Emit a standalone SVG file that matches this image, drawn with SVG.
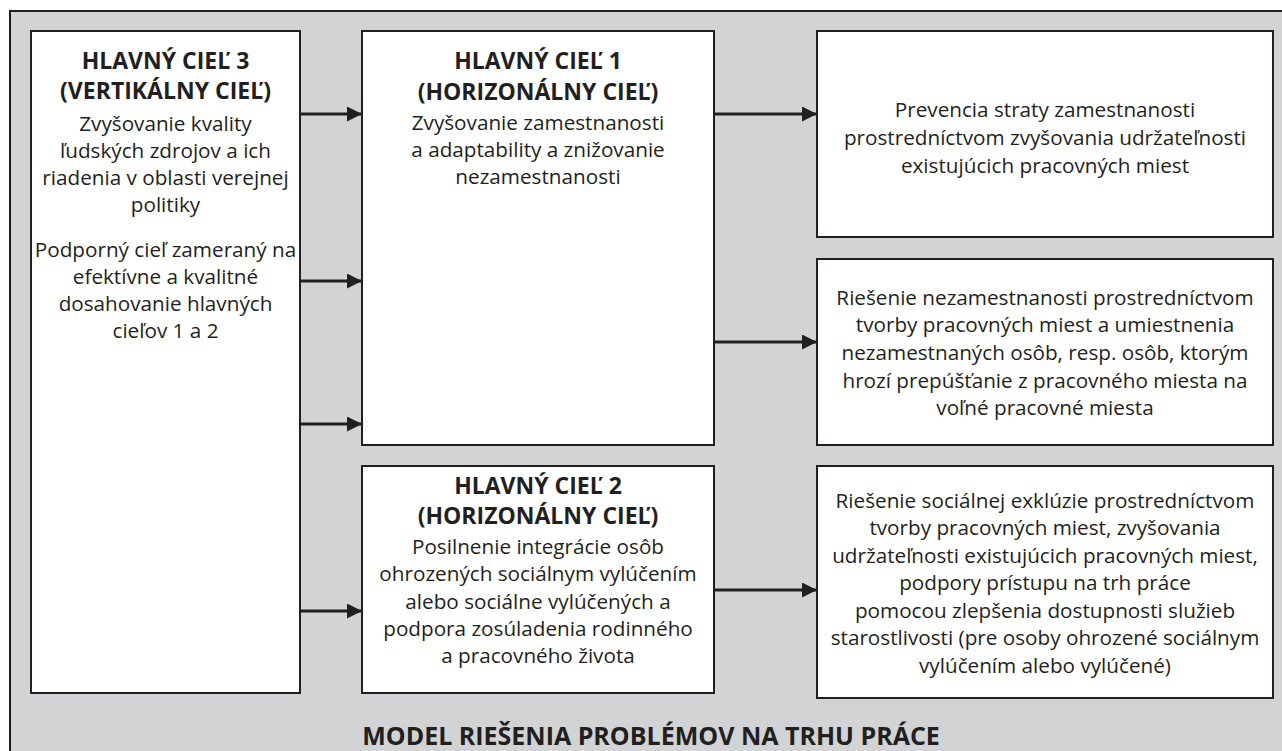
<svg xmlns="http://www.w3.org/2000/svg" width="1282" height="751" viewBox="0 0 1282 751">
<style>
  .frame { fill: #d1d3d4; stroke: #231f20; stroke-width: 2; }
  .box { fill: #ffffff; stroke: #231f20; stroke-width: 2; }
  .hd { font-family: "Open Sans", "Liberation Sans", sans-serif; font-weight: bold; font-size: 23px; fill: #231f20; text-anchor: middle; }
  .tx { font-family: "Open Sans", "Liberation Sans", sans-serif; font-size: 20.7px; fill: #231f20; text-anchor: middle; }
  .title { font-family: "Open Sans", "Liberation Sans", sans-serif; font-weight: bold; font-size: 25px; fill: #231f20; text-anchor: middle; }
  .conn { stroke: #231f20; stroke-width: 3; fill: none; marker-end: url(#arrow); }
</style>
<defs>
  <marker id="arrow" viewBox="0 0 15 15" refX="15" refY="7.5" markerWidth="15" markerHeight="15" markerUnits="userSpaceOnUse" orient="auto">
    <path d="M0,0 L15,7.5 L0,15 Z" fill="#231f20"/>
  </marker>
</defs>
<rect class="frame" x="10" y="11" width="1290" height="760"/>

<g id="goal3">
  <rect class="box" x="31" y="31" width="269" height="662"/>
  <text class="hd" x="165.5" y="69">HLAVNÝ CIEĽ 3</text>
  <text class="hd" x="165.5" y="99">(VERTIKÁLNY CIEĽ)</text>
  <text class="tx" x="165.5" y="131">Zvyšovanie kvality</text>
  <text class="tx" x="165.5" y="158">ľudských zdrojov a ich</text>
  <text class="tx" x="165.5" y="185">riadenia v oblasti verejnej</text>
  <text class="tx" x="165.5" y="212">politiky</text>
  <text class="tx" x="165.5" y="257">Podporný cieľ zameraný na</text>
  <text class="tx" x="165.5" y="284">efektívne a kvalitné</text>
  <text class="tx" x="165.5" y="311">dosahovanie hlavných</text>
  <text class="tx" x="165.5" y="338">cieľov 1 a 2</text>
</g>

<g id="goal1">
  <rect class="box" x="362" y="31" width="352" height="414"/>
  <text class="hd" x="538" y="69">HLAVNÝ CIEĽ 1</text>
  <text class="hd" x="538" y="100">(HORIZONÁLNY CIEĽ)</text>
  <text class="tx" x="538" y="130">Zvyšovanie zamestnanosti</text>
  <text class="tx" x="538" y="157">a adaptability a znižovanie</text>
  <text class="tx" x="538" y="184">nezamestnanosti</text>
</g>

<g id="goal2">
  <rect class="box" x="362" y="466" width="352" height="227"/>
  <text class="hd" x="538" y="494">HLAVNÝ CIEĽ 2</text>
  <text class="hd" x="538" y="524">(HORIZONÁLNY CIEĽ)</text>
  <text class="tx" x="538" y="554">Posilnenie integrácie osôb</text>
  <text class="tx" x="538" y="581">ohrozených sociálnym vylúčením</text>
  <text class="tx" x="538" y="609">alebo sociálne vylúčených a</text>
  <text class="tx" x="538" y="636">podpora zosúladenia rodinného</text>
  <text class="tx" x="538" y="663">a pracovného života</text>
</g>

<g id="measure1">
  <rect class="box" x="817" y="31" width="456" height="206"/>
  <text class="tx" x="1045" y="117">Prevencia straty zamestnanosti</text>
  <text class="tx" x="1045" y="145">prostredníctvom zvyšovania udržateľnosti</text>
  <text class="tx" x="1045" y="173">existujúcich pracovných miest</text>
</g>

<g id="measure2">
  <rect class="box" x="817" y="259" width="456" height="186"/>
  <text class="tx" x="1045" y="305">Riešenie nezamestnanosti prostredníctvom</text>
  <text class="tx" x="1045" y="332">tvorby pracovných miest a umiestnenia</text>
  <text class="tx" x="1045" y="360">nezamestnaných osôb, resp. osôb, ktorým</text>
  <text class="tx" x="1045" y="388">hrozí prepúšťanie z pracovného miesta na</text>
  <text class="tx" x="1045" y="415">voľné pracovné miesta</text>
</g>

<g id="measure3">
  <rect class="box" x="817" y="466" width="456" height="232"/>
  <text class="tx" x="1045" y="508">Riešenie sociálnej exklúzie prostredníctvom</text>
  <text class="tx" x="1045" y="535">tvorby pracovných miest, zvyšovania</text>
  <text class="tx" x="1045" y="563">udržateľnosti existujúcich pracovných miest,</text>
  <text class="tx" x="1045" y="590">podpory prístupu na trh práce</text>
  <text class="tx" x="1045" y="618">pomocou zlepšenia dostupnosti služieb</text>
  <text class="tx" x="1045" y="645">starostlivosti (pre osoby ohrozené sociálnym</text>
  <text class="tx" x="1045" y="673">vylúčením alebo vylúčené)</text>
</g>

<g id="connectors">
  <line class="conn" x1="300" y1="114" x2="362" y2="114"/>
  <line class="conn" x1="300" y1="281" x2="362" y2="281"/>
  <line class="conn" x1="300" y1="424" x2="362" y2="424"/>
  <line class="conn" x1="300" y1="611" x2="362" y2="611"/>
  <line class="conn" x1="714" y1="114" x2="817" y2="114"/>
  <line class="conn" x1="714" y1="342" x2="817" y2="342"/>
  <line class="conn" x1="714" y1="590" x2="817" y2="590"/>
</g>

<text class="title" x="651" y="745">MODEL RIEŠENIA PROBLÉMOV NA TRHU PRÁCE</text>
</svg>
